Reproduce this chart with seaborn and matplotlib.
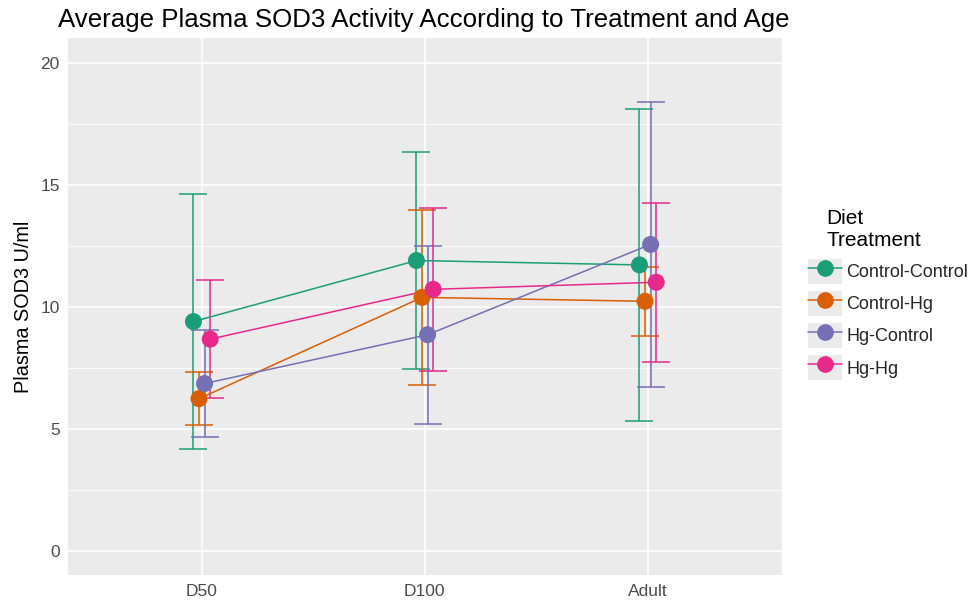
import matplotlib
matplotlib.use("Agg")
import matplotlib.pyplot as plt
import seaborn as sns
import pandas as pd
import numpy as np
from matplotlib.lines import Line2D
from matplotlib.patches import Patch
from matplotlib.legend_handler import HandlerTuple

ages = ["D50", "D100", "Adult"]
groups = ["Control-Control", "Control-Hg", "Hg-Control", "Hg-Hg"]
colors = ["#1B9E77", "#D95F02", "#7570B3", "#E7298A"]

mean_cc = [9.40, 11.90, 11.72]
err_cc = [5.21, 4.43, 6.40]
mean_ch = [6.24, 10.39, 10.23]
err_ch = [1.09, 3.57, 1.41]
mean_hc = [6.86, 8.86, 12.56]
err_hc = [2.18, 3.65, 5.83]
mean_hh = [8.68, 10.72, 11.01]
err_hh = [2.41, 3.34, 3.26]

means = [mean_cc, mean_ch, mean_hc, mean_hh]
errs = [err_cc, err_ch, err_hc, err_hh]

offsets = [-0.0375, -0.0125, 0.0125, 0.0375]

rows = []
for g, m, e, off in zip(groups, means, errs, offsets):
    for i, a in enumerate(ages):
        rows.append({"group": g, "age": a, "x": i + off, "mean": m[i], "err": e[i]})
df = pd.DataFrame(rows)

sns.set_theme(style="darkgrid")
plt.rcParams["font.family"] = ["Liberation Sans", "DejaVu Sans"]

fig = plt.figure(figsize=(9.71, 6.0), dpi=100)
ax = fig.add_axes([0.070, 0.041, 0.735, 0.895])
ax.set_facecolor("#EBEBEB")

# error bars
for g, c in zip(groups, colors):
    sub = df[df.group == g]
    ax.errorbar(sub["x"], sub["mean"], yerr=sub["err"], fmt="none", ecolor=c,
                elinewidth=1.1, capsize=10, capthick=1.1, zorder=3)

sns.lineplot(data=df, x="x", y="mean", hue="group", hue_order=groups,
             palette=colors, linewidth=1.1, legend=False, ax=ax, zorder=4, sort=True)
sns.scatterplot(data=df, x="x", y="mean", hue="group", hue_order=groups,
                palette=colors, s=150, edgecolor="none", legend=False, ax=ax, zorder=5)

ax.set_xlim(-0.6, 2.6)
ax.set_ylim(-1, 21)
ax.set_xticks(range(len(ages)))
ax.set_xticklabels(ages)
ax.set_yticks([0, 5, 10, 15, 20])
ax.set_yticks([2.5, 7.5, 12.5, 17.5], minor=True)
ax.grid(which="major", color="white", linewidth=1.2)
ax.grid(which="minor", color="white", linewidth=0.6)
ax.set_axisbelow(True)
for s in ax.spines.values():
    s.set_visible(False)
ax.tick_params(axis="both", which="major", length=3, color="#333333",
               labelsize=12.5, labelcolor="#4D4D4D", pad=3)
ax.tick_params(axis="both", which="minor", length=0)
ax.set_xlabel("")
ax.set_ylabel("Plasma SOD3 U/ml", fontsize=14.3, color="black", labelpad=5)

fig.text(0.060, 0.967, "Average Plasma SOD3 Activity According to Treatment and Age",
         fontsize=18.6, ha="left", va="center", color="black")

# legend
fig.text(826 / 971, 1 - 229.5 / 600, "Diet\nTreatment", fontsize=15,
         ha="left", va="center", color="black", linespacing=1.2)
handles = []
for c in colors:
    bg = Patch(facecolor="#EBEBEB", edgecolor="none")
    ln = Line2D([0], [0], color=c, marker="o", markersize=11, linewidth=1.1)
    handles.append((bg, ln))
leg = fig.legend(handles, groups,
                 handler_map={tuple: HandlerTuple(ndivide=1, pad=0)},
                 loc="center left", bbox_to_anchor=(801 / 971, 1 - 319.5 / 600),
                 bbox_transform=fig.transFigure, frameon=False,
                 fontsize=13, handlelength=1.85, handleheight=1.75,
                 labelspacing=0.4, handletextpad=0.25, borderaxespad=0)

fig.savefig("out.png", dpi=100)
